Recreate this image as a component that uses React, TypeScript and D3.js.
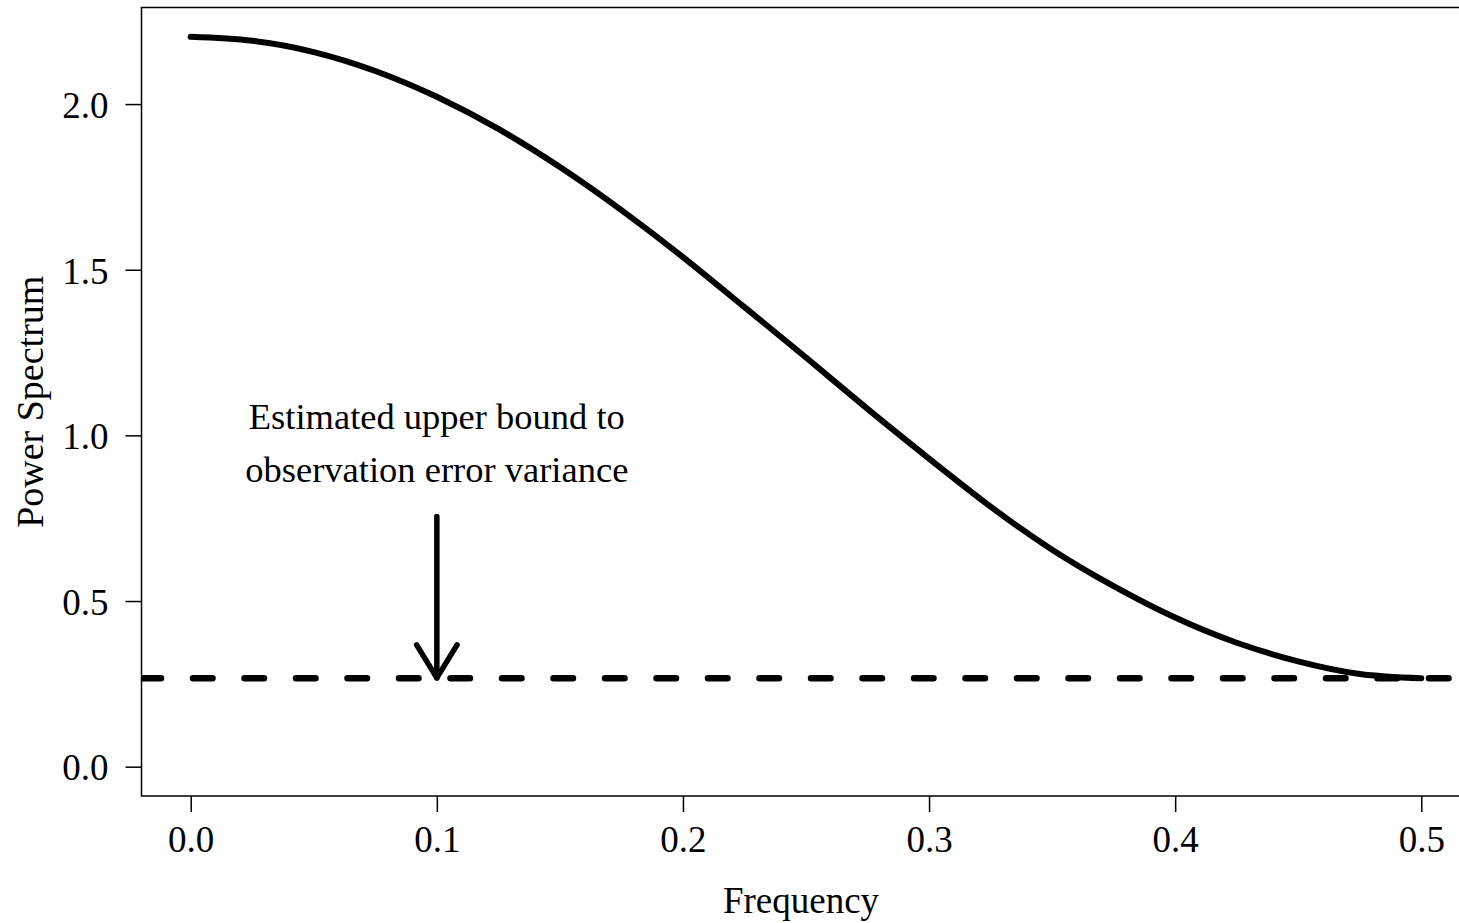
import { useEffect, useRef } from "react";
import * as d3 from "d3";

// frequencies and spectrum values
const freq = [
  0, 0.025, 0.05, 0.075, 0.1, 0.125, 0.15, 0.175, 0.2, 0.225, 0.25,
  0.275, 0.3, 0.325, 0.35, 0.375, 0.4, 0.425, 0.45, 0.475, 0.5,
];
const power = [
  2.203, 2.191, 2.157, 2.1, 2.022, 1.925, 1.81, 1.68, 1.538, 1.387, 1.235,
  1.08, 0.93, 0.785, 0.655, 0.545, 0.45, 0.374, 0.318, 0.28, 0.267,
];

const xTicks = [0, 0.1, 0.2, 0.3, 0.4, 0.5];
const yTicks = [0, 0.5, 1.0, 1.5, 2.0];

const errorBound = 0.267;
const arrowX = 0.1;
const arrowFrom = 0.755;
const arrowTo = 0.268;
const noteLines = ["Estimated upper bound to", "observation error variance"];
const noteY = [1.02, 0.86];

const FONT = "'Liberation Serif', 'Times New Roman', serif";

const App = () => {
  const svgRef = useRef<SVGSVGElement>(null);

  useEffect(() => {
    if (!svgRef.current) return;
    document.body.style.margin = "0";

    const width = 1459;
    const height = 923;
    const left = 141.5;
    const right = 1470.5;
    const top = 7.5;
    const bottom = 796;

    const svg = d3.select(svgRef.current);
    svg.selectAll("*").remove();
    svg.attr("width", width).attr("height", height);

    const x = d3.scaleLinear().domain([-0.02, 0.52]).range([left, right]);
    const y = d3.scaleLinear().domain([-0.0885, 2.2915]).range([bottom, top]);

    svg
      .append("clipPath")
      .attr("id", "plot-clip")
      .append("rect")
      .attr("x", left)
      .attr("y", top)
      .attr("width", right - left)
      .attr("height", bottom - top);

    // frame
    svg
      .append("rect")
      .attr("x", left)
      .attr("y", top)
      .attr("width", right - left)
      .attr("height", bottom - top)
      .attr("fill", "none")
      .attr("stroke", "#000")
      .attr("stroke-width", 1.5);

    // X axis
    const gx = svg
      .append("g")
      .attr("transform", `translate(0,${bottom})`)
      .call(d3.axisBottom(x).tickValues(xTicks).tickSize(16).tickPadding(14).tickFormat(d3.format(".1f")));
    gx.select(".domain").remove();
    gx.selectAll("line").attr("stroke", "#000").attr("stroke-width", 1.5);
    gx.selectAll("text")
      .attr("font-family", FONT)
      .attr("font-size", "37px")
      .attr("fill", "#000")
      .attr("dy", null)
      .attr("y", 851.7 - bottom);

    // Y axis
    const gy = svg
      .append("g")
      .attr("transform", `translate(${left},0)`)
      .call(d3.axisLeft(y).tickValues(yTicks).tickSize(16).tickPadding(16).tickFormat(d3.format(".1f")));
    gy.select(".domain").remove();
    gy.selectAll("line").attr("stroke", "#000").attr("stroke-width", 1.5);
    gy.selectAll("text")
      .attr("font-family", FONT)
      .attr("font-size", "37px")
      .attr("fill", "#000")
      .attr("dy", null)
      .attr("y", 13.3)
      .attr("x", 108.5 - left);

    // axis titles
    svg
      .append("text")
      .attr("x", 801)
      .attr("y", 913)
      .attr("text-anchor", "middle")
      .attr("font-family", FONT)
      .attr("font-size", "37px")
      .text("Frequency");

    svg
      .append("text")
      .attr("transform", `translate(43,${(top + bottom) / 2}) rotate(-90)`)
      .attr("text-anchor", "middle")
      .attr("font-family", FONT)
      .attr("font-size", "38px")
      .text("Power Spectrum");

    const plot = svg.append("g").attr("clip-path", "url(#plot-clip)");

    // dashed bound line
    plot
      .append("line")
      .attr("x1", left)
      .attr("x2", right)
      .attr("y1", y(errorBound))
      .attr("y2", y(errorBound))
      .attr("stroke", "#000")
      .attr("stroke-width", 6.5)
      .attr("stroke-linecap", "round")
      .attr("stroke-dasharray", "19.5,32");

    // spectrum curve
    const line = d3
      .line<number>()
      .x((_, i) => x(freq[i]))
      .y((d) => y(d))
      .curve(d3.curveNatural);

    plot
      .append("path")
      .attr("d", line(power))
      .attr("fill", "none")
      .attr("stroke", "#000")
      .attr("stroke-width", 6)
      .attr("stroke-linecap", "round")
      .attr("stroke-linejoin", "round");

    // arrow
    const ax = x(arrowX);
    const tipY = y(arrowTo);
    const headLen = 38.7;
    const ang = (31.5 * Math.PI) / 180;
    const arrow = plot
      .append("g")
      .attr("stroke", "#000")
      .attr("stroke-width", 5.5)
      .attr("stroke-linecap", "round")
      .attr("fill", "none");
    arrow.append("line").attr("x1", ax).attr("x2", ax).attr("y1", y(arrowFrom)).attr("y2", tipY);
    arrow
      .append("path")
      .attr(
        "d",
        `M${ax - headLen * Math.sin(ang)},${tipY - headLen * Math.cos(ang)}L${ax},${tipY}L${ax + headLen * Math.sin(ang)},${tipY - headLen * Math.cos(ang)}`
      )
      .attr("stroke-linejoin", "round");

    // annotation
    noteLines.forEach((t, i) => {
      svg
        .append("text")
        .attr("x", x(arrowX))
        .attr("y", y(noteY[i]))
        .attr("text-anchor", "middle")
        .attr("font-family", FONT)
        .attr("font-size", "36.5px")
        .text(t);
    });
  }, []);

  return (
    <div style={{ width: 1459, height: 923, background: "#fff" }}>
      <svg ref={svgRef} style={{ display: "block" }} />
    </div>
  );
};

export default App;
